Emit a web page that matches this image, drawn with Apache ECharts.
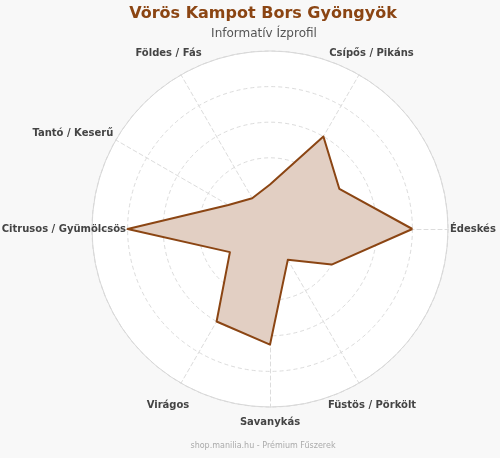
<!DOCTYPE html>
<html>
<head>
<meta charset="utf-8">
<script src="https://cdn.jsdelivr.net/npm/echarts@6/dist/echarts.min.js"></script>
<style>
  html, body { margin: 0; padding: 0; background: #f8f8f8; }
  #chart { width: 500px; height: 458px; }
</style>
</head>
<body>
<div id="chart"></div>
<script>
// ---- data ----
const titleText = 'Vörös Kampot Bors Gyöngyök';
const subtitleText = 'Informatív Ízprofil';
const footerText = 'shop.manilia.hu - Prémium Fűszerek';
const indicatorNames = ['Édeskés', '', 'Csípős / Pikáns', '', 'Földes / Fás', 'Tantó / Keserű',
  'Citrusos / Gyümölcsös', '', 'Virágos', 'Savanykás', 'Füstös / Pörkölt', ''];
const profileValues = [8, 4.5, 6, 2.5, 2, 2.7, 8, 2.6, 6, 6.5, 2, 4];
const maxValue = 10;

// ---- label layout (styles / positions, separate from data) ----
const labelLayout = [
  { gap: 2 },
  { gap: 10 },
  { gap: 25, align: 'center', va: 'middle' },
  { gap: 10 },
  { gap: 25, align: 'center', va: 'middle' },
  { gap: 3, align: 'right', va: 'bottom' },
  { gap: -34, align: 'right', va: 'middle' },
  { gap: 10 },
  { gap: 26, align: 'center', va: 'middle' },
  { gap: 15, align: 'center', va: 'middle' },
  { gap: 26, align: 'center', va: 'middle' },
  { gap: 10 }
];

const brown = '#8B4513';
const center = [270, 229];
const radius = 178;

const indicators = indicatorNames.map((n, i) => {
  const l = labelLayout[i];
  const ind = { name: n, max: maxValue, min: 0, nameGap: l.gap, axisLine: { show: n !== '' } };
  const ts = {};
  if (l.align) ts.align = l.align;
  if (l.va) ts.verticalAlign = l.va;
  ind.nameTextStyle = ts;
  return ind;
});
const plainIndicators = indicatorNames.map(() => ({ name: '', max: maxValue, min: 0 }));

const chart = echarts.init(document.getElementById('chart'), null, { renderer: 'canvas' });
chart.setOption({
  backgroundColor: '#f8f8f8',
  animation: false,
  title: [
    { text: titleText, left: 258, top: 1, textAlign: 'center',
      textStyle: { fontFamily: 'DejaVu Sans', fontWeight: 'bold', fontSize: 16, color: brown } },
    { text: subtitleText, left: 259, top: 23, textAlign: 'center',
      textStyle: { fontFamily: 'DejaVu Sans', fontWeight: 'normal', fontSize: 12, color: '#555' } },
    { text: footerText, left: 258, top: 437, textAlign: 'center',
      textStyle: { fontFamily: 'DejaVu Sans', fontWeight: 'normal', fontSize: 8, color: '#aaa' } }
  ],
  radar: [
    {
      center: center,
      radius: radius,
      startAngle: 0,
      shape: 'circle',
      splitNumber: 5,
      indicator: indicators,
      axisName: { fontFamily: 'DejaVu Sans', fontWeight: 'bold', fontSize: 10, color: '#444' },
      axisNameGap: 10,
      axisLine: { show: true, lineStyle: { color: '#dcdcdc', type: [4, 3], width: 1 } },
      splitLine: { show: true, lineStyle: { color: '#dcdcdc', type: [4, 3], width: 1 } },
      splitArea: { show: true, areaStyle: { color: ['#ffffff'] } }
    },
    {
      center: center,
      radius: radius,
      startAngle: 0,
      shape: 'circle',
      splitNumber: 1,
      indicator: plainIndicators,
      axisName: { show: false },
      axisLine: { show: false },
      splitLine: { show: true, lineStyle: { color: '#d8d8d8', type: 'solid', width: 1 } },
      splitArea: { show: false }
    }
  ],
  series: [
    {
      type: 'radar',
      radarIndex: 0,
      symbol: 'none',
      lineStyle: { width: 0, opacity: 0 },
      areaStyle: { color: '#e2cfc3', opacity: 1 },
      data: [{ value: profileValues, name: titleText }]
    },
    {
      type: 'radar',
      radarIndex: 0,
      symbol: 'none',
      lineStyle: { color: brown, width: 2 },
      data: [{ value: profileValues, name: titleText }]
    }
  ]
});
</script>
</body>
</html>
